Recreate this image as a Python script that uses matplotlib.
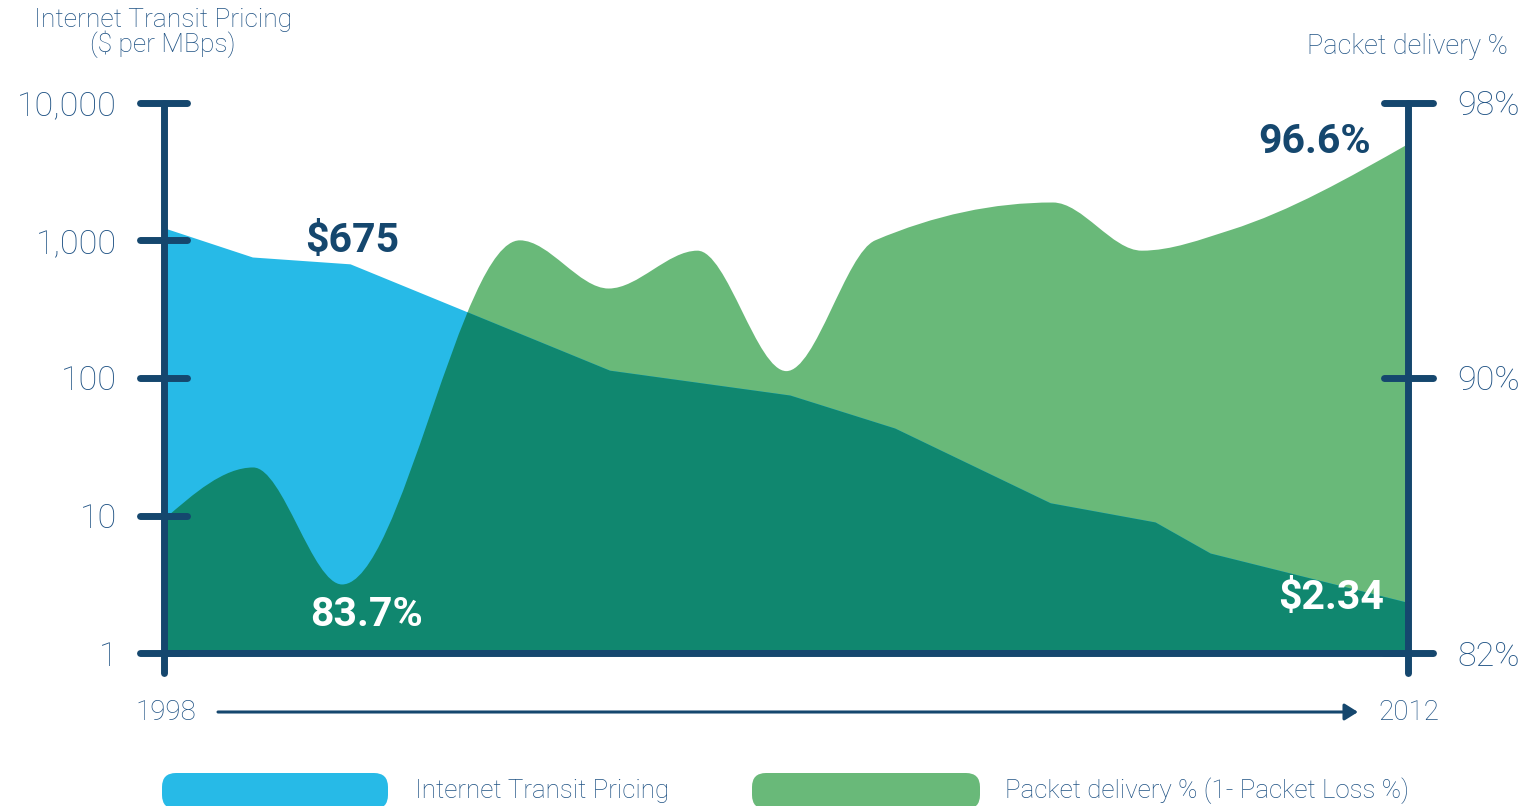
import numpy as np
import matplotlib
matplotlib.use("Agg")
import matplotlib.pyplot as plt
from matplotlib.path import Path
from matplotlib.patches import PathPatch, FancyBboxPatch, FancyArrowPatch
from matplotlib.transforms import blended_transform_factory
from matplotlib.ticker import NullLocator

# ---------------- data ----------------
price_years = [1998.0, 1998.99, 2000.09, 2003.01, 2005.04, 2006.22, 2007.97, 2009.15, 2009.77, 2012.0]
price_values = [1230, 757, 675, 114, 75.2, 43.3, 12.4, 9.0, 5.35, 2.34]

delivery_years = [1998, 1999, 2000, 2002, 2003, 2004, 2005, 2006, 2008, 2009, 2010, 2012]
delivery_values = [85.9, 87.4, 84.0, 94.0, 92.6, 93.7, 90.2, 94.0, 95.1, 93.7, 94.3, 96.8]

price_ticks = [1, 10, 100, 1000, 10000]
price_tick_labels = ["1", "10", "100", "1,000", "10,000"]
delivery_ticks = [82, 90, 98]
delivery_tick_labels = ["82%", "90%", "98%"]
year_labels = ["1998", "2012"]

legend_labels = ["Internet Transit Pricing", "Packet delivery % (1- Packet Loss %)"]

# ---------------- style ----------------
BLUE = "#27BAE7"
GREEN = "#69B979"
TEAL = "#10876F"
NAVY = "#15476E"
TXT = "#1F5284"
LIGHT = ["Roboto", "DejaVu Sans"]
LW_TXT = "light"
BOLD = ["Roboto", "DejaVu Sans"]

W, H = 1528, 806
fig = plt.figure(figsize=(W / 100, H / 100), dpi=100)
fig.patch.set_facecolor("white")

x0, x1 = 164.4, 1408.3
y_top, y_bot = 102.7, 653.3
ax = fig.add_axes([x0 / W, (H - y_bot) / H, (x1 - x0) / W, (y_bot - y_top) / H])
ax2 = ax.twinx()

ax.set_zorder(2)
ax.patch.set_visible(False)
ax2.set_zorder(1)

ax.set_xlim(1998, 2012)
ax.set_yscale("log")
ax.set_ylim(1, 10000)
ax2.set_ylim(82, 98)

for a in (ax, ax2):
    for s in a.spines.values():
        s.set_visible(False)
    a.set_xticks([])

# ---------------- green area (monotone smooth curve) ----------------
def monotone_tangents(x, y):
    x = np.asarray(x, float)
    y = np.asarray(y, float)
    h = np.diff(x)
    s = np.diff(y) / h
    n = len(x)
    m = np.zeros(n)
    for i in range(1, n - 1):
        p = (s[i - 1] * h[i] + s[i] * h[i - 1]) / (h[i - 1] + h[i])
        m[i] = (np.sign(s[i - 1]) + np.sign(s[i])) * min(abs(s[i - 1]), abs(s[i]), 0.5 * abs(p))
    m[0] = (3 * s[0] - m[1]) / 2
    m[-1] = (3 * s[-1] - m[-2]) / 2
    return m

gx = np.asarray(delivery_years, float)
gy = np.asarray(delivery_values, float)
gm = monotone_tangents(gx, gy)
base = 82
verts = [(gx[0], base), (gx[0], gy[0])]
codes = [Path.MOVETO, Path.LINETO]
for i in range(len(gx) - 1):
    dx = gx[i + 1] - gx[i]
    verts += [(gx[i] + dx / 3, gy[i] + gm[i] * dx / 3),
              (gx[i + 1] - dx / 3, gy[i + 1] - gm[i + 1] * dx / 3),
              (gx[i + 1], gy[i + 1])]
    codes += [Path.CURVE4] * 3
verts += [(gx[-1], base), (gx[0], base)]
codes += [Path.LINETO, Path.CLOSEPOLY]
green_patch = PathPatch(Path(verts, codes), facecolor=GREEN, edgecolor="none", zorder=1)
ax2.add_patch(green_patch)

# ---------------- blue area + overlap ----------------
ax.fill_between(price_years, price_values, 1, color=BLUE, lw=0, zorder=1)
overlap = ax.fill_between(price_years, price_values, 1, color=TEAL, lw=0, zorder=2)
overlap.set_clip_path(green_patch)

# ---------------- axes lines & ticks ----------------
lw_axis = 5.0
ax.plot([0, 0], [-0.036, 1], transform=ax.transAxes, color=NAVY, lw=lw_axis,
        solid_capstyle="round", clip_on=False, zorder=5)
ax.plot([1, 1], [-0.036, 1], transform=ax.transAxes, color=NAVY, lw=lw_axis,
        solid_capstyle="round", clip_on=False, zorder=5)
ax.plot([0, 1], [0, 0], transform=ax.transAxes, color=NAVY, lw=lw_axis,
        solid_capstyle="butt", clip_on=False, zorder=5)

axw = x1 - x0
tl = blended_transform_factory(ax.transAxes, ax.transData)
for v in price_ticks:
    ax.plot([-24.5 / axw, 22.5 / axw], [v, v], transform=tl, color=NAVY, lw=lw_axis,
            solid_capstyle="round", clip_on=False, zorder=5)
tr = blended_transform_factory(ax2.transAxes, ax2.transData)
for v in delivery_ticks:
    ax2.plot([1 - 24.5 / axw, 1 + 24.5 / axw], [v, v], transform=tr, color=NAVY, lw=lw_axis,
             solid_capstyle="round", clip_on=False, zorder=5)

ax.yaxis.set_minor_locator(NullLocator())
ax.set_yticks(price_ticks)
ax.set_yticklabels(price_tick_labels)
ax.tick_params(axis="y", length=0, pad=34, labelsize=24.5, labelcolor=TXT)
for t in ax.get_yticklabels():
    t.set_fontfamily(LIGHT)
    t.set_fontweight(LW_TXT)

ax2.set_yticks(delivery_ticks)
ax2.set_yticklabels(delivery_tick_labels)
ax2.tick_params(axis="y", length=0, pad=35, labelsize=24.5, labelcolor=TXT)
for t in ax2.get_yticklabels():
    t.set_fontfamily(LIGHT)
    t.set_fontweight(LW_TXT)

# ---------------- titles ----------------
def px(x, y):
    return x / W, 1 - y / H

fig.text(*px(163, 33), "Internet Transit Pricing\n($ per MBps)", ha="center", va="center",
         fontsize=19, color=TXT, family=LIGHT, weight=LW_TXT, linespacing=0.95)
fig.text(*px(1508, 47), "Packet delivery %", ha="right", va="center",
         fontsize=19.5, color=TXT, family=LIGHT, weight=LW_TXT)

# ---------------- value labels ----------------
fig.text(*px(305, 241), "$675", ha="left", va="center", fontsize=29.5, color=NAVY,
         family=BOLD, weight="bold")
fig.text(*px(1258, 142), "96.6%", ha="left", va="center", fontsize=29.5, color=NAVY,
         family=BOLD, weight="bold")
fig.text(*px(310, 615), "83.7%", ha="left", va="center", fontsize=29.5, color="white",
         family=BOLD, weight="bold")
fig.text(*px(1278, 598), "$2.34", ha="left", va="center", fontsize=29.5, color="white",
         family=BOLD, weight="bold")

# ---------------- time arrow ----------------
fig.text(*px(166, 713), year_labels[0], ha="center", va="center", fontsize=20,
         color=TXT, family=LIGHT, weight=LW_TXT)
fig.text(*px(1409, 713), year_labels[1], ha="center", va="center", fontsize=20,
         color=TXT, family=LIGHT, weight=LW_TXT)
fig.patches.append(FancyArrowPatch(
    px(218, 712), px(1358, 712), transform=fig.transFigure, figure=fig,
    arrowstyle="-|>,head_length=8,head_width=5", color=NAVY, lw=2.2,
    shrinkA=0, shrinkB=0))

# ---------------- legend ----------------
for (lx, lw_, col, tx, lab) in [(162, 226, BLUE, 415, legend_labels[0]),
                                 (752, 228, GREEN, 1005, legend_labels[1])]:
    box = FancyBboxPatch((lx / 100, -0.03), lw_ / 100, 0.36,
                         boxstyle="round,pad=0,rounding_size=0.14",
                         transform=fig.dpi_scale_trans, facecolor=col,
                         edgecolor="none", figure=fig)
    fig.patches.append(box)
    fig.text(*px(tx, 791), lab, ha="left", va="center", fontsize=18.7, color=TXT,
             family=LIGHT, weight=LW_TXT)

fig.savefig("out.png", dpi=100, facecolor="white")
